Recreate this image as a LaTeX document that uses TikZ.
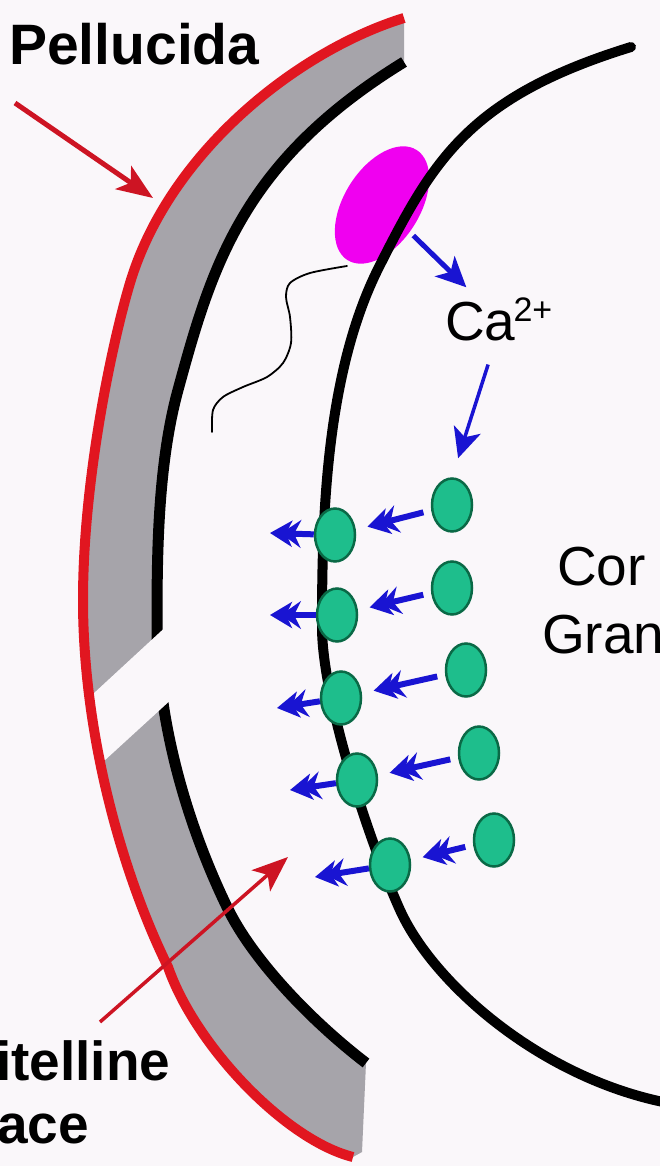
\documentclass[tikz,border=0pt]{standalone}
\usepackage{fontspec}
\setmainfont{Liberation Sans}
\usetikzlibrary{arrows.meta,shapes.geometric}

\definecolor{bg}{RGB}{250,247,250}
\definecolor{zonared}{RGB}{225,22,32}
\definecolor{arrowred}{RGB}{205,20,35}
\definecolor{zonagray}{RGB}{166,164,170}
\definecolor{ionblue}{RGB}{25,20,210}
\definecolor{granfill}{RGB}{30,190,140}
\definecolor{granedge}{RGB}{10,105,70}
\definecolor{spermhead}{RGB}{240,0,240}

\tikzset{
  txt/.style={inner sep=0pt, font=\fontsize{55}{60}\selectfont},
  boldtxt/.style={txt, font=\fontsize{55}{60}\selectfont\bfseries},
  granule/.style={ellipse, draw=granedge, line width=2.5pt, fill=granfill,
    minimum width=40pt, minimum height=53pt, inner sep=0pt},
  release/.style={draw=ionblue, line width=6pt,
    -{Stealth[length=20pt,width=28pt,inset=7pt,sep=-11pt]Stealth[length=22pt,width=26pt,inset=6pt]}},
  ionarrow/.style={draw=ionblue, line width=#1,
    -{Stealth[length=30pt,width=28pt,inset=8pt]}},
  pointer/.style={draw=arrowred, line width=#1,
    -{Stealth[length=36pt,width=28pt,inset=9pt]}},
}

\begin{document}
\begin{tikzpicture}[x=1pt,y=-1pt]
  % canvas
  \fill[bg] (0,0) rectangle (660,1166);
  \useasboundingbox (0,0) rectangle (660,1166);

  % zona pellucida band
  \fill[zonagray]
    (404,18) .. controls (300,50) and (170,150) .. (130,283)
    .. controls (112,343) and (83,480) .. (83,600)
    .. controls (83,740) and (125,880) .. (168,967)
    .. controls (195,1045) and (285,1140) .. (353,1157)
    -- (362,1152) -- (366,1063)
    .. controls (310,1020) and (252,959) .. (227,907)
    .. controls (185,820) and (158,720) .. (157,630)
    .. controls (157,560) and (157,467) .. (178,390)
    .. controls (212,265) and (243,161) .. (404,62)
    -- cycle;

  % inner edge of the zona
  \draw[line width=11pt]
    (404,62) .. controls (243,161) and (212,265) .. (178,390)
    .. controls (157,467) and (157,560) .. (157,630)
    .. controls (158,720) and (185,820) .. (227,907)
    .. controls (252,959) and (310,1020) .. (366,1063);

  % channel cut through the zona
  \fill[bg] (184,610) -- (80,706) -- (80,783) -- (186,686) -- cycle;

  % outer surface of the zona
  \draw[zonared, line width=10pt]
    (404,18) .. controls (300,50) and (170,150) .. (130,283)
    .. controls (112,343) and (83,480) .. (83,600)
    .. controls (83,740) and (125,880) .. (168,967)
    .. controls (195,1045) and (285,1140) .. (353,1157);

  % sperm
  \node[ellipse, fill=spermhead, rotate=58, minimum width=130pt,
        minimum height=76pt, inner sep=0pt] (head) at (382,205) {};
  \draw[line width=1.8pt, line cap=round]
    plot[smooth] coordinates {(347,266) (310,273) (290,283) (286,297) (290,317)
      (291,343) (283,363) (267,377) (243,387) (223,397) (213,410) (212,432)};

  % egg plasma membrane
  \draw[line width=10pt, line cap=round]
    (631,47) .. controls (469,97) and (433,160) .. (379,267)
    .. controls (325,374) and (322,520) .. (322,627)
    .. controls (322,700) and (371,846) .. (400,910)
    .. controls (433,983) and (540,1078) .. (668,1103);

  % cortical granules: fused with the membrane / still inside
  \node[granule] (l1) at (335,535) {};
  \node[granule] (l2) at (337,615) {};
  \node[granule] (l3) at (341,698) {};
  \node[granule] (l4) at (357,780) {};
  \node[granule] (l5) at (390,865) {};
  \node[granule] (r1) at (452,505) {};
  \node[granule] (r2) at (452,588) {};
  \node[granule] (r3) at (466,670) {};
  \node[granule] (r4) at (479,753) {};
  \node[granule] (r5) at (494,840) {};

  % granules moving to the surface
  \foreach \i in {1,...,5}
    \draw[release, shorten <=8pt, shorten >=12pt] (r\i) -- (l\i);

  % contents released into the perivitelline space
  \coordinate (o1) at (270,533);
  \coordinate (o2) at (270,615);
  \coordinate (o3) at (277,708);
  \coordinate (o4) at (290,790);
  \coordinate (o5) at (315,877);
  \foreach \i in {1,...,5}
    \draw[release] (l\i) -- (o\i);

  % calcium signal
  \node[txt, anchor=base west] (ca) at (445,340)
    {Ca\kern-2pt\raisebox{19pt}{\fontsize{34}{34}\selectfont 2+}};
  \draw[ionarrow=5pt, shorten <=5pt, shorten >=14pt] (head) -- (ca);
  \draw[ionarrow=3.5pt, shorten <=25pt, shorten >=20pt]
    ([xshift=-3pt]ca.south) -- (r1.north);

  % labels
  \node[boldtxt, font=\fontsize{57}{60}\selectfont\bfseries, anchor=base west]
    (zona) at (9,65) {Pellucida};
  \node[txt, anchor=base west] (cor) at (557,585) {Cor};
  \node[txt, anchor=base west] (gran) at (542,653) {Gran};
  \node[boldtxt, anchor=base west] (vit) at (-4,1080) {itelline};
  \node[boldtxt, anchor=base west] (space) at (-3,1143) {ace};

  % label pointers
  \coordinate (zp0) at (15,103);
  \coordinate (zp1) at (153,198);
  \draw[pointer=5pt] (zp0) -- (zp1);
  \coordinate (vs0) at (100,1022);
  \coordinate (vs1) at (288,857);
  \draw[pointer=3.5pt] (vs0) -- (vs1);
\end{tikzpicture}
\end{document}
